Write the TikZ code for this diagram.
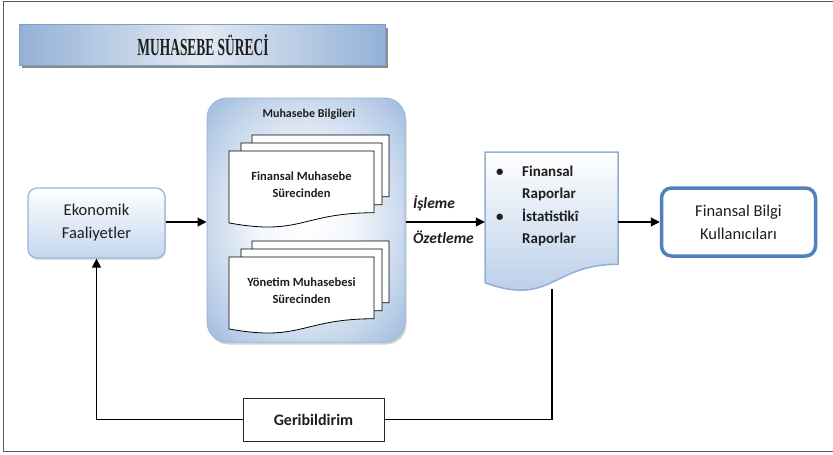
\documentclass[tikz,border=0pt]{standalone}
\usepackage{fontspec}
\setmainfont{Carlito}
\newfontfamily\titlefont{Liberation Serif}
\usepackage{graphicx}
\usetikzlibrary{arrows.meta,shadows}
\definecolor{tbdark}{HTML}{93B1D6}
\definecolor{tblight}{HTML}{E2EAF4}
\definecolor{tbline}{HTML}{7F9FC8}
\definecolor{mbouter}{HTML}{8AACD7}
\definecolor{mbline}{HTML}{9FB9DA}
\definecolor{ekbot}{HTML}{C4D6EE}
\definecolor{ekline}{HTML}{98B4D8}
\definecolor{repbot}{HTML}{B3CAE6}
\definecolor{repline}{HTML}{93AFD4}
\definecolor{finline}{HTML}{4F81BD}
\definecolor{txt}{HTML}{1E1E1E}
\pgfdeclareradialshading{mbshade}{\pgfpoint{0bp}{0bp}}{color(0bp)=(white); color(12bp)=(white!90!mbouter); color(26bp)=(white!50!mbouter); color(40bp)=(mbouter); color(50bp)=(mbouter)}
\newcommand\docshape[5][]{\path[#1] (#2,#3) -- ({#2+#4},#3) -- ({#2+#4},{#3+0.802*#5}) .. controls ({#2+0.5*#4},{#3+0.802*#5}) and ({#2+0.5*#4},{#3+1.107*#5}) .. (#2,{#3+0.934*#5}) -- cycle;}
\begin{document}
\begin{tikzpicture}[x=1pt,y=-1pt,
  conn/.style={line width=1.1pt, draw=black},
  arr/.style={conn, -{Triangle[length=9pt,width=9pt]}},
  page/.style={fill=white, draw=black, line width=0.8pt},
  stacktext/.style={font=\fontsize{12.5}{17}\selectfont\bfseries, text=txt, align=center},
  reptext/.style={font=\fontsize{15}{17}\selectfont\bfseries, text=txt, anchor=base west, inner sep=0},
  boxtext/.style={font=\fontsize{16.5}{23}\selectfont, text=txt, align=center}
]
\useasboundingbox (0,0) rectangle (833,455);
% frame
\draw[line width=1pt, black!65] (833,1.5) -- (3,1.5) -- (3,451) -- (833,451);
% title bar
\fill[black!45] (22,28) rectangle (388,68);
\shade[left color=tbdark, right color=tbdark, middle color=tblight, draw=tbline, line width=0.6pt] (19,24) rectangle (385,65);
\node[inner sep=0, text=txt] (title) at (203,45) {\resizebox{131pt}{21pt}{\titlefont\bfseries MUHASEBE SÜRECİ}};
% Muhasebe Bilgileri box
\node[draw=mbline, line width=1pt, rounded corners=20pt, minimum width=198pt, minimum height=244pt,
  shading=mbshade, drop shadow={opacity=0.35, shadow xshift=1.5pt, shadow yshift=-2.5pt}] (mb) at (306,220) {};
\node[font=\fontsize{12}{14}\selectfont\bfseries, text=txt, anchor=base] (mbt) at (309,117) {Muhasebe Bilgileri};
% stack 1
\docshape[page]{252}{135}{137}{77}
\docshape[page]{241}{143}{141}{77}
\docshape[page]{229}{151}{145}{77}
\node[stacktext] (s1) at (301.5,185) {Finansal Muhasebe\\Sürecinden};
% stack 2
\docshape[page]{252}{241}{137}{77}
\docshape[page]{241}{249}{141}{77}
\docshape[page]{229}{257}{145}{77}
\node[stacktext] (s2) at (301.5,291) {Yönetim Muhasebesi\\Sürecinden};
% Ekonomik Faaliyetler
\node[draw=ekline, line width=1.2pt, rounded corners=9pt, minimum width=137pt, minimum height=70pt,
  top color=white, bottom color=ekbot, boxtext,
  drop shadow={opacity=0.25, shadow xshift=1pt, shadow yshift=-2pt}] (ek) at (96.5,223) {Ekonomik\\Faaliyetler};
% report document
\docshape[top color=white, bottom color=repbot, draw=repline, line width=1.5pt]{485}{152}{133}{140}
\node[minimum width=133pt, minimum height=140pt, inner sep=0] (rep) at (551.5,222) {};
\node[reptext] (b1) at (496,176) {\textbullet};
\node[reptext] (r1) at (522,176) {Finansal};
\node[reptext] (r2) at (522,198.5) {Raporlar};
\node[reptext] (b2) at (496,221) {\textbullet};
\node[reptext] (r3) at (522,221) {İstatistikî};
\node[reptext] (r4) at (522,243.5) {Raporlar};
% Finansal Bilgi Kullanicilari
\node[draw=finline, line width=3.5pt, rounded corners=10pt, minimum width=154pt, minimum height=68pt,
  fill=white, boxtext, drop shadow={opacity=0.2, shadow xshift=1pt, shadow yshift=-1.5pt}] (fin) at (738.5,222) {Finansal Bilgi\\Kullanıcıları};
% Geribildirim
\node[draw=black!85, line width=1pt, fill=white, minimum width=141pt, minimum height=43pt,
  font=\fontsize{16}{18}\selectfont\bfseries, text=txt] (geri) at (313.5,419.5) {Geribildirim};
% labels
\node[font=\fontsize{15.5}{17}\selectfont\bfseries\itshape, text=txt, anchor=base west, inner sep=0] (isl) at (413,208) {İşleme};
\node[font=\fontsize{15.5}{17}\selectfont\bfseries\itshape, text=txt, anchor=base west, inner sep=0] (oz) at (413,243) {Özetleme};
% connectors
\coordinate (repb) at (552,289);
\draw[arr] (ek.east |- 0,222) -- (mb.west |- 0,222);
\draw[arr] (mb.east |- 0,222) -- (rep.west |- 0,222);
\draw[arr] (rep.east |- 0,222) -- (fin.west |- 0,222);
\draw[conn] (repb) |- (geri.east);
\draw[arr] (geri.west) -| (ek.south);
\end{tikzpicture}
\end{document}
